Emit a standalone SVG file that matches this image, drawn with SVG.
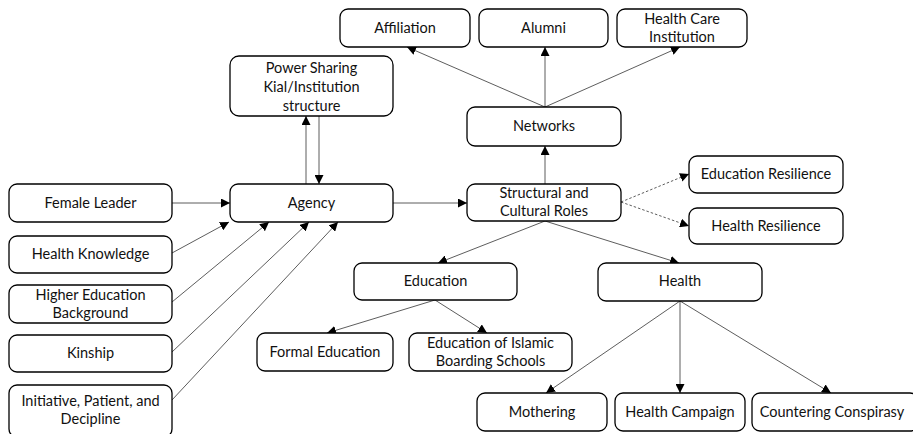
<svg xmlns="http://www.w3.org/2000/svg" width="913" height="434" viewBox="0 0 913 434">
<style>
.n rect{fill:#fff;stroke:#000;stroke-width:1.3}
.n text{font-family:Lato,"Liberation Sans",sans-serif;font-size:14.5px;fill:#111;text-anchor:middle}
.c line{stroke:#333;stroke-width:0.8;marker-end:url(#ah)}
.c line.d{stroke-dasharray:2.5,2}
</style>
<defs>
<marker id="ah" viewBox="0 0 10 10" refX="10" refY="5" markerWidth="9" markerHeight="9" markerUnits="userSpaceOnUse" orient="auto">
<path d="M0,0 L10,5 L0,10 z" fill="#000"/>
</marker>
</defs>
<rect width="913" height="434" fill="#fff"/>
<g class="c">
<line x1="545" y1="107" x2="407" y2="47"/>
<line x1="545" y1="107" x2="545" y2="47"/>
<line x1="545" y1="107" x2="680" y2="47"/>
<line x1="306" y1="184" x2="306" y2="116"/>
<line x1="319" y1="116" x2="319" y2="184"/>
<line x1="172" y1="203" x2="230" y2="203"/>
<line x1="172" y1="253" x2="229" y2="222"/>
<line x1="172" y1="302" x2="269" y2="222"/>
<line x1="172" y1="352" x2="309" y2="222"/>
<line x1="172" y1="400" x2="338" y2="222"/>
<line x1="393" y1="203" x2="467" y2="203"/>
<line x1="545" y1="184" x2="545" y2="146"/>
<line class="d" x1="621" y1="202" x2="689" y2="174"/>
<line class="d" x1="621" y1="202" x2="689" y2="226"/>
<line x1="545" y1="221" x2="438" y2="263"/>
<line x1="545" y1="221" x2="679" y2="263"/>
<line x1="435" y1="300" x2="327" y2="333"/>
<line x1="435" y1="300" x2="487" y2="333"/>
<line x1="680" y1="301" x2="546" y2="393"/>
<line x1="680" y1="301" x2="680" y2="393"/>
<line x1="680" y1="301" x2="831" y2="393"/>
</g>
<g id="affiliation" class="n"><rect x="340" y="9" width="130" height="38" rx="8"/><text x="405" y="33">Affiliation</text></g>
<g id="alumni" class="n"><rect x="479" y="9" width="129" height="38" rx="8"/><text x="543.5" y="33">Alumni</text></g>
<g id="hci" class="n"><rect x="617" y="9" width="130" height="38" rx="8"/><text x="682" y="24">Health Care</text><text x="682" y="42">Institution</text></g>
<g id="power" class="n"><rect x="230" y="56" width="163" height="60" rx="9"/><text x="311.5" y="73">Power Sharing</text><text x="311.5" y="92">Kial/Institution</text><text x="311.5" y="111">structure</text></g>
<g id="networks" class="n"><rect x="467" y="107" width="154" height="39" rx="8"/><text x="544" y="131">Networks</text></g>
<g id="female" class="n"><rect x="9" y="184" width="163" height="38" rx="8"/><text x="90.5" y="208">Female Leader</text></g>
<g id="agency" class="n"><rect x="230" y="184" width="163" height="38" rx="8"/><text x="311.5" y="208">Agency</text></g>
<g id="scr" class="n"><rect x="467" y="184" width="154" height="37" rx="8"/><text x="544" y="198">Structural and</text><text x="544" y="216">Cultural Roles</text></g>
<g id="edures" class="n"><rect x="689" y="156" width="154" height="37" rx="8"/><text x="766" y="179">Education Resilience</text></g>
<g id="healthres" class="n"><rect x="689" y="208" width="154" height="36" rx="8"/><text x="766" y="231">Health Resilience</text></g>
<g id="healthknow" class="n"><rect x="9" y="236" width="163" height="37" rx="8"/><text x="90.5" y="259">Health Knowledge</text></g>
<g id="education" class="n"><rect x="354" y="263" width="163" height="37" rx="8"/><text x="435.5" y="286">Education</text></g>
<g id="health" class="n"><rect x="598" y="263" width="164" height="38" rx="8"/><text x="680" y="286">Health</text></g>
<g id="highered" class="n"><rect x="9" y="285" width="163" height="38" rx="8"/><text x="90.5" y="300">Higher Education</text><text x="90.5" y="318">Background</text></g>
<g id="formal" class="n"><rect x="257" y="333" width="136" height="38" rx="8"/><text x="325" y="357">Formal Education</text></g>
<g id="islamic" class="n"><rect x="409" y="333" width="163" height="38" rx="8"/><text x="490.5" y="348">Education of Islamic</text><text x="490.5" y="366">Boarding Schools</text></g>
<g id="kinship" class="n"><rect x="9" y="335" width="163" height="37" rx="8"/><text x="90.5" y="358">Kinship</text></g>
<g id="initiative" class="n"><rect x="9" y="385" width="163" height="52" rx="8"/><text x="90.5" y="406">Initiative, Patient, and</text><text x="90.5" y="424">Decipline</text></g>
<g id="mothering" class="n"><rect x="477" y="393" width="130" height="38" rx="8"/><text x="542" y="417">Mothering</text></g>
<g id="campaign" class="n"><rect x="615" y="393" width="130" height="38" rx="8"/><text x="680" y="417">Health Campaign</text></g>
<g id="countering" class="n"><rect x="752" y="393" width="166" height="38" rx="8"/><text x="832" y="417">Countering Conspirasy</text></g>
</svg>
